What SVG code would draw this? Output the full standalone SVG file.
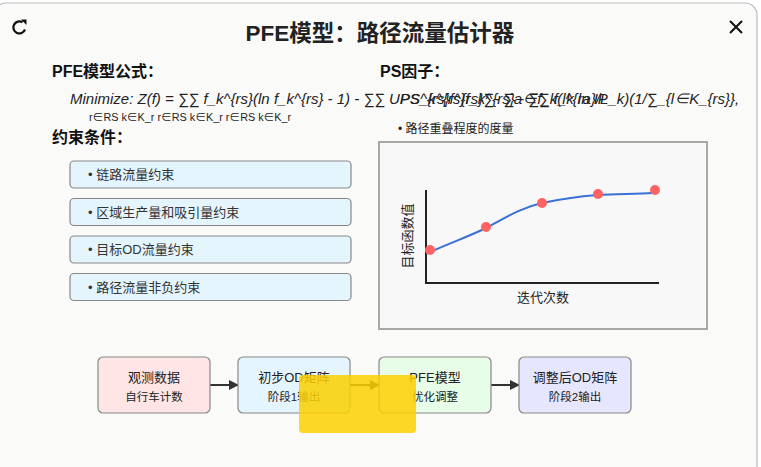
<svg xmlns="http://www.w3.org/2000/svg" width="761" height="467" viewBox="0 0 761 467">
<defs>
<style>
.t{font-family:"Liberation Sans","Noto Sans CJK SC",sans-serif;fill:#222}
.h{font-weight:bold;font-size:16px;fill:#111}
.cb{fill:#e5f5fd;stroke:#888;stroke-width:1.2}
.ct{font-size:13px;fill:#333}
.fb{stroke:#888;stroke-width:1.2}
.f1{font-size:13px;text-anchor:middle}
.f2{font-size:11.5px;text-anchor:middle}
.dot{fill:#ff6262}
</style>
<marker id="ah" markerWidth="10" markerHeight="10" refX="9" refY="5" orient="auto" markerUnits="userSpaceOnUse" viewBox="0 0 10 10">
<path d="M0,0 L10,5 L0,10 z" fill="#333"/>
</marker>
</defs>
<rect width="761" height="467" fill="#ffffff"/>
<rect x="-6" y="3" width="763" height="480" rx="12" fill="#fafaf9" stroke="#bdbdbd" stroke-width="1.2"/>
<g id="icons">
<path d="M22.5,22.3 A6,6 0 1 0 25,29.5" fill="none" stroke="#111" stroke-width="2.2"/>
<path d="M21,19.5 L26.5,19.5 L26.5,25 z" fill="#111"/>
<path d="M730,21 L742,33 M742,21 L730,33" stroke="#111" stroke-width="2"/>
</g>
<text class="t" x="380" y="41" text-anchor="middle" font-size="22.5" font-weight="bold" fill="#111">PFE模型：路径流量估计器</text>
<text class="t h" x="52" y="77">PFE模型公式：</text>
<text class="t h" x="380" y="77">PS因子：</text>
<g id="formula">
<text class="t" x="70" y="104" font-size="15" font-style="italic" fill="#333">Minimize: Z(f) = ∑∑ f_k^{rs}(ln f_k^{rs} - 1) - ∑∑ UPS_k^{rs}f_k^{rs} - ∑∑ f_k ln IP</text>
<text class="t" x="400" y="104" font-size="15" font-style="italic" fill="#333">PS^{rs}f^{rs}∑- ∑a∈f_k(l^{ra}/L_k)(1/∑_{l∈K_{rs}},</text>
<text class="t" x="89" y="121" font-size="10.8" fill="#333">r∈RS k∈K_r r∈RS k∈K_r r∈RS k∈K_r</text>
</g>
<text class="t h" x="52" y="143">约束条件：</text>
<text class="t" x="398" y="133" font-size="12" fill="#333">• 路径重叠程度的度量</text>
<g id="c1"><rect class="cb" x="70" y="161" width="281" height="27" rx="4"/><text class="t ct" x="88" y="179">• 链路流量约束</text></g>
<g id="c2"><rect class="cb" x="70" y="198.5" width="281" height="27" rx="4"/><text class="t ct" x="88" y="216.5">• 区域生产量和吸引量约束</text></g>
<g id="c3"><rect class="cb" x="70" y="236" width="281" height="27" rx="4"/><text class="t ct" x="88" y="254">• 目标OD流量约束</text></g>
<g id="c4"><rect class="cb" x="70" y="273.5" width="281" height="27" rx="4"/><text class="t ct" x="88" y="291.5">• 路径流量非负约束</text></g>
<g id="chart">
<rect x="379" y="142" width="328" height="187" fill="#f8f8f8" stroke="#a8a8a8" stroke-width="2"/>
<path d="M426,190 L426,283 L659,283" fill="none" stroke="#222" stroke-width="2"/>
<path d="M428,253 C450,243 470,236 486,228 C505,218 520,208 542,203 C565,198 585,196 598,195 C620,194 640,194 652,193" fill="none" stroke="#3a70d8" stroke-width="2"/>
<circle class="dot" cx="430" cy="250" r="5"/>
<circle class="dot" cx="486" cy="227" r="5"/>
<circle class="dot" cx="542" cy="203" r="5"/>
<circle class="dot" cx="598" cy="194" r="5"/>
<circle class="dot" cx="655" cy="190" r="5"/>
<text class="t" x="543" y="302" font-size="13" text-anchor="middle">迭代次数</text>
<text class="t" transform="translate(412,236) rotate(-90)" font-size="13" text-anchor="middle">目标函数值</text>
</g>
<g id="connectors">
<path d="M210,385 L238,385" stroke="#333" stroke-width="2" marker-end="url(#ah)"/>
<path d="M350,385 L379,385" stroke="#333" stroke-width="2" marker-end="url(#ah)"/>
<path d="M491,385 L519,385" stroke="#333" stroke-width="2" marker-end="url(#ah)"/>
</g>
<g id="n1"><rect class="fb" x="98" y="357" width="112" height="56" rx="5" fill="#ffe5e6"/><text class="t f1" x="154" y="382">观测数据</text><text class="t f2" x="154" y="401">自行车计数</text></g>
<g id="n2"><rect class="fb" x="238" y="357" width="112" height="56" rx="5" fill="#e5f5ff"/><text class="t f1" x="294" y="382">初步OD矩阵</text><text class="t f2" x="294" y="401">阶段1输出</text></g>
<g id="n3"><rect class="fb" x="379" y="357" width="112" height="56" rx="5" fill="#e8fde8"/><text class="t f1" x="435" y="382">PFE模型</text><text class="t f2" x="435" y="401">优化调整</text></g>
<g id="n4"><rect class="fb" x="519" y="357" width="112" height="56" rx="5" fill="#e6e6fe"/><text class="t f1" x="575" y="382">调整后OD矩阵</text><text class="t f2" x="575" y="401">阶段2输出</text></g>
<rect x="299" y="375" width="117" height="58" rx="4" fill="#fcd000" opacity="0.85"/>
</svg>
